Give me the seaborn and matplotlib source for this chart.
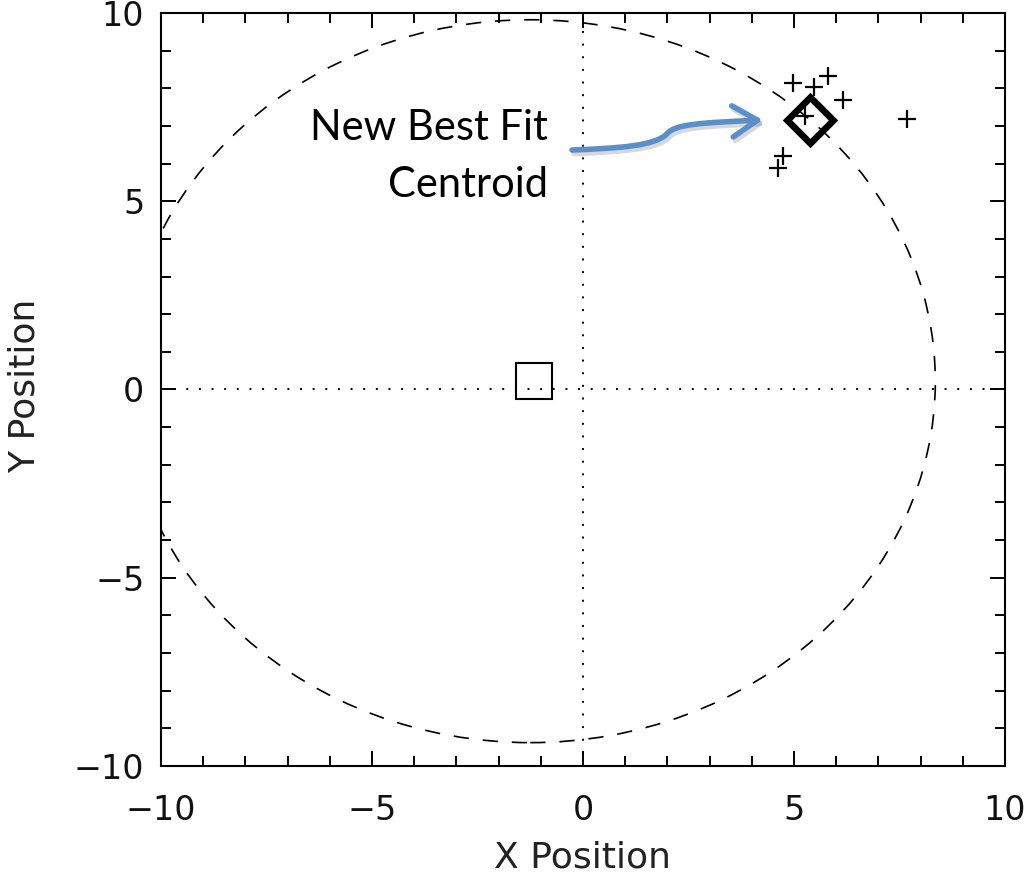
import numpy as np
import matplotlib
matplotlib.use("Agg")
import matplotlib.pyplot as plt
import seaborn as sns
from matplotlib.patches import Ellipse, FancyArrowPatch
from matplotlib.path import Path
import matplotlib.patheffects as pe

# -----------------------------
# DATA
# -----------------------------
scatter_x = [4.98, 5.48, 5.80, 6.15, 5.26, 7.67, 4.73, 4.61]
scatter_y = [8.13, 8.04, 8.33, 7.69, 7.26, 7.18, 6.20, 5.87]

old_centroid = [-1.17, 0.23]      # square marker
best_fit = [5.38, 7.16]           # diamond marker

circle_center = [-1.25, 0.22]
circle_radius = 9.6

tick_major = [-10, -5, 0, 5, 10]
tick_minor = list(range(-10, 11))

# -----------------------------
# STYLE
# -----------------------------
sns.set_theme(style="ticks")
plt.rcParams['font.family'] = ['DejaVu Sans']
plt.rcParams['lines.scale_dashes'] = False

fig = plt.figure(figsize=(10.3, 8.77), dpi=100, facecolor="white")
ax = fig.add_axes([0.1563, 0.1266, 0.8194, 0.8586])
ax.set_facecolor("white")

# reference lines through the origin
ax.axhline(0, color="black", lw=1.4, dashes=(1.4, 7.7), zorder=1)
ax.axvline(0, color="black", lw=1.4, dashes=(1.4, 7.7), zorder=1)

# dashed circle
ax.add_patch(Ellipse(circle_center, 2 * circle_radius, 2 * circle_radius,
                     fill=False, edgecolor="black", lw=1.2,
                     linestyle=(0, (11, 10)), zorder=2))

# individual centroids
sns.scatterplot(x=scatter_x, y=scatter_y, marker="+", s=160,
                color="black", linewidth=1.6, ax=ax, zorder=4)

# old centroid (square) and best fit (diamond)
ax.plot([old_centroid[0]], [old_centroid[1]], marker="s", ms=26,
        mfc="none", mec="black", mew=1.5, ls="none", zorder=3)
ax.plot([best_fit[0]], [best_fit[1]], marker="D", ms=23,
        mfc="none", mec="black", mew=4.8, ls="none", zorder=5)

# -----------------------------
# AXES
# -----------------------------
ax.set_xlim(-10, 10)
ax.set_ylim(-10, 10)
ax.set_xticks(tick_major)
ax.set_yticks(tick_major)
ax.set_xticks(tick_minor, minor=True)
ax.set_yticks(tick_minor, minor=True)
ax.tick_params(which="both", direction="in", top=True, right=True,
               color="black", width=1.4)
ax.tick_params(which="major", length=11, labelsize=24, pad=12,
               labelcolor="#111111")
ax.tick_params(which="minor", length=7)
ax.tick_params(axis="x", which="major", pad=20)
for sp in ax.spines.values():
    sp.set_color("black")
    sp.set_linewidth(1.5)

ax.set_xlabel("X Position", fontsize=26, color="#222222")
ax.set_ylabel("Y Position", fontsize=26, color="#222222")
ax.xaxis.set_label_coords(0.5, -0.0996)
ax.yaxis.set_label_coords(-0.141, 0.505)

# -----------------------------
# ANNOTATION
# -----------------------------
ax.text(-0.83, 6.63, "New Best Fit", ha="right", va="baseline",
        fontsize=30, family=["Lato", "DejaVu Sans"], color="black")
ax.text(-0.83, 5.11, "Centroid", ha="right", va="baseline",
        fontsize=30, family=["Lato", "DejaVu Sans"], color="black")

arrow_path = Path(
    [(-0.26, 6.36), (0.88, 6.41), (1.71, 6.47), (1.99, 6.79),
     (2.18, 7.05), (2.77, 7.08), (4.26, 7.16)],
    [Path.MOVETO, Path.CURVE4, Path.CURVE4, Path.CURVE4,
     Path.CURVE4, Path.CURVE4, Path.CURVE4],
)
arrow = FancyArrowPatch(path=arrow_path,
                        arrowstyle="->,head_length=0.45,head_width=0.28",
                        mutation_scale=40, color="#5B8FC9", lw=4.0,
                        capstyle="round", joinstyle="round", zorder=6,
                        path_effects=[pe.SimpleLineShadow(offset=(1.5, -2.5),
                                                          shadow_color="gray",
                                                          alpha=0.3),
                                      pe.Normal()])
ax.add_patch(arrow)

plt.savefig("out.png", dpi=100, facecolor="white")
